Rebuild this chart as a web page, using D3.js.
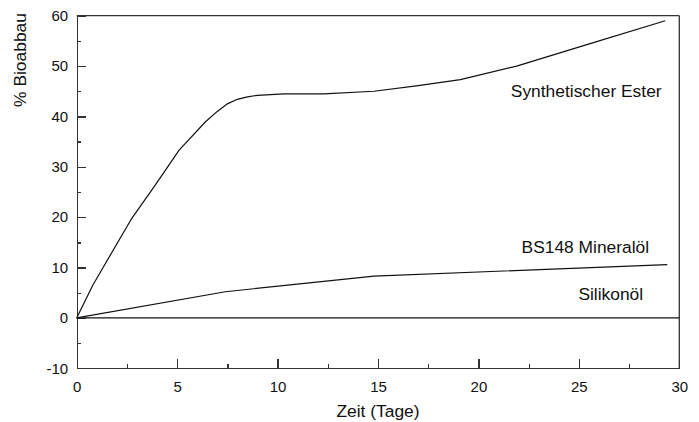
<!DOCTYPE html>
<html lang="de">
<head>
<meta charset="UTF-8">
<title>Bioabbau</title>
<script src="https://cdn.jsdelivr.net/npm/d3@7"></script>
<style>
body{ margin:0; background:#fff; }
svg{ font-family:"Liberation Sans", Arial, Helvetica, sans-serif; }
.axis path, .axis line{ stroke:#333; stroke-width:1.3px; shape-rendering:crispEdges; }
.axis text{ font-size:15px; fill:#111; }
.curve{ fill:none; stroke:#111; stroke-width:1.2px; stroke-linejoin:round; }
.lbl{ font-size:17.4px; fill:#111; }
</style>
</head>
<body>
<script>
// Zeit (Tage) und % Bioabbau
var esterX = [0, 0.8, 2.7, 3.9, 5.1, 6.4, 7.0, 7.5, 8.0, 8.5, 9.0, 10.3, 12.3, 14.8, 17.0, 19.1, 21.9, 25.6, 29.3];
var esterY = [0, 6.5, 19.5, 26.3, 33.3, 38.9, 41.0, 42.5, 43.4, 43.9, 44.2, 44.5, 44.5, 45.0, 46.1, 47.3, 50.0, 54.5, 59.0];
var mineralX = [0, 7.4, 14.8, 29.4];
var mineralY = [0, 5.2, 8.3, 10.6];
var silikonX = [0, 30];
var silikonY = [0, 0];

var xMajor = [0, 5, 10, 15, 20, 25, 30];
var xMinor = [2.5, 7.5, 12.5, 17.5, 22.5, 27.5];
var yMajor = [-10, 0, 10, 20, 30, 40, 50, 60];
var yMinor = [-5, 5, 15, 25, 35, 45, 55];

var labels = [
	{t:"Synthetischer Ester", x:29.12, y:43.8},
	{t:"BS148 Mineralöl", x:28.5, y:12.8},
	{t:"Silikonöl", x:28.2, y:3.5}
];

var W = 699, H = 422;
var x = d3.scaleLinear().domain([0, 30]).range([76.7, 679.3]);
var y = d3.scaleLinear().domain([-10, 60]).range([368.3, 15.7]);

var svg = d3.select("body").append("svg").attr("width", W).attr("height", H);

// Rahmen oben und rechts
svg.append("line")
	.attr("x1", x(0)).attr("x2", x(30)).attr("y1", y(60)).attr("y2", y(60))
	.attr("stroke","#333").attr("stroke-width",1.3);
svg.append("line")
	.attr("x1", x(30)).attr("x2", x(30)).attr("y1", y(60)).attr("y2", y(-10))
	.attr("stroke","#333").attr("stroke-width",1.3);

// x Achse
svg.append("g").attr("class","axis").attr("transform","translate(0,"+y(-10)+")")
	.call(d3.axisBottom(x).tickValues(xMajor).tickSize(-9).tickSizeOuter(0).tickPadding(13).tickFormat(d3.format("d")));
svg.append("g").attr("class","axis").attr("transform","translate(0,"+y(-10)+")")
	.call(d3.axisBottom(x).tickValues(xMinor).tickSize(-4.5).tickSizeOuter(0).tickFormat(""))
	.select(".domain").remove();

// y Achse
svg.append("g").attr("class","axis").attr("transform","translate("+x(0)+",0)")
	.call(d3.axisLeft(y).tickValues(yMajor).tickSize(-9).tickSizeOuter(0).tickPadding(8.5).tickFormat(d3.format("d")));
svg.append("g").attr("class","axis").attr("transform","translate("+x(0)+",0)")
	.call(d3.axisLeft(y).tickValues(yMinor).tickSize(-4.5).tickSizeOuter(0).tickFormat(""))
	.select(".domain").remove();

svg.selectAll(".axis text").filter(function(d){ return d === -10; }).text("-10");

// Kurven
function pts(xs, ys){ return xs.map(function(v,i){ return [v, ys[i]]; }); }
var line = d3.line().x(function(d){ return x(d[0]); }).y(function(d){ return y(d[1]); });

svg.append("path").attr("class","curve").attr("d", line(pts(esterX, esterY)));
svg.append("path").attr("class","curve").attr("d", line(pts(mineralX, mineralY)));
svg.append("path").attr("class","curve").attr("d", line(pts(silikonX, silikonY)));

svg.selectAll(".lbl.series").data(labels).enter().append("text").attr("class","lbl series")
	.attr("x", function(d){ return x(d.x); }).attr("y", function(d){ return y(d.y); })
	.attr("text-anchor","end").text(function(d){ return d.t; });

// Achsentitel
svg.append("text").attr("class","lbl").attr("x", 378).attr("y", 417).attr("text-anchor","middle").text("Zeit (Tage)");
svg.append("text").attr("class","lbl").attr("transform","translate(26,60) rotate(-90)")
	.attr("text-anchor","middle").text("% Bioabbau");
</script>
</body>
</html>
